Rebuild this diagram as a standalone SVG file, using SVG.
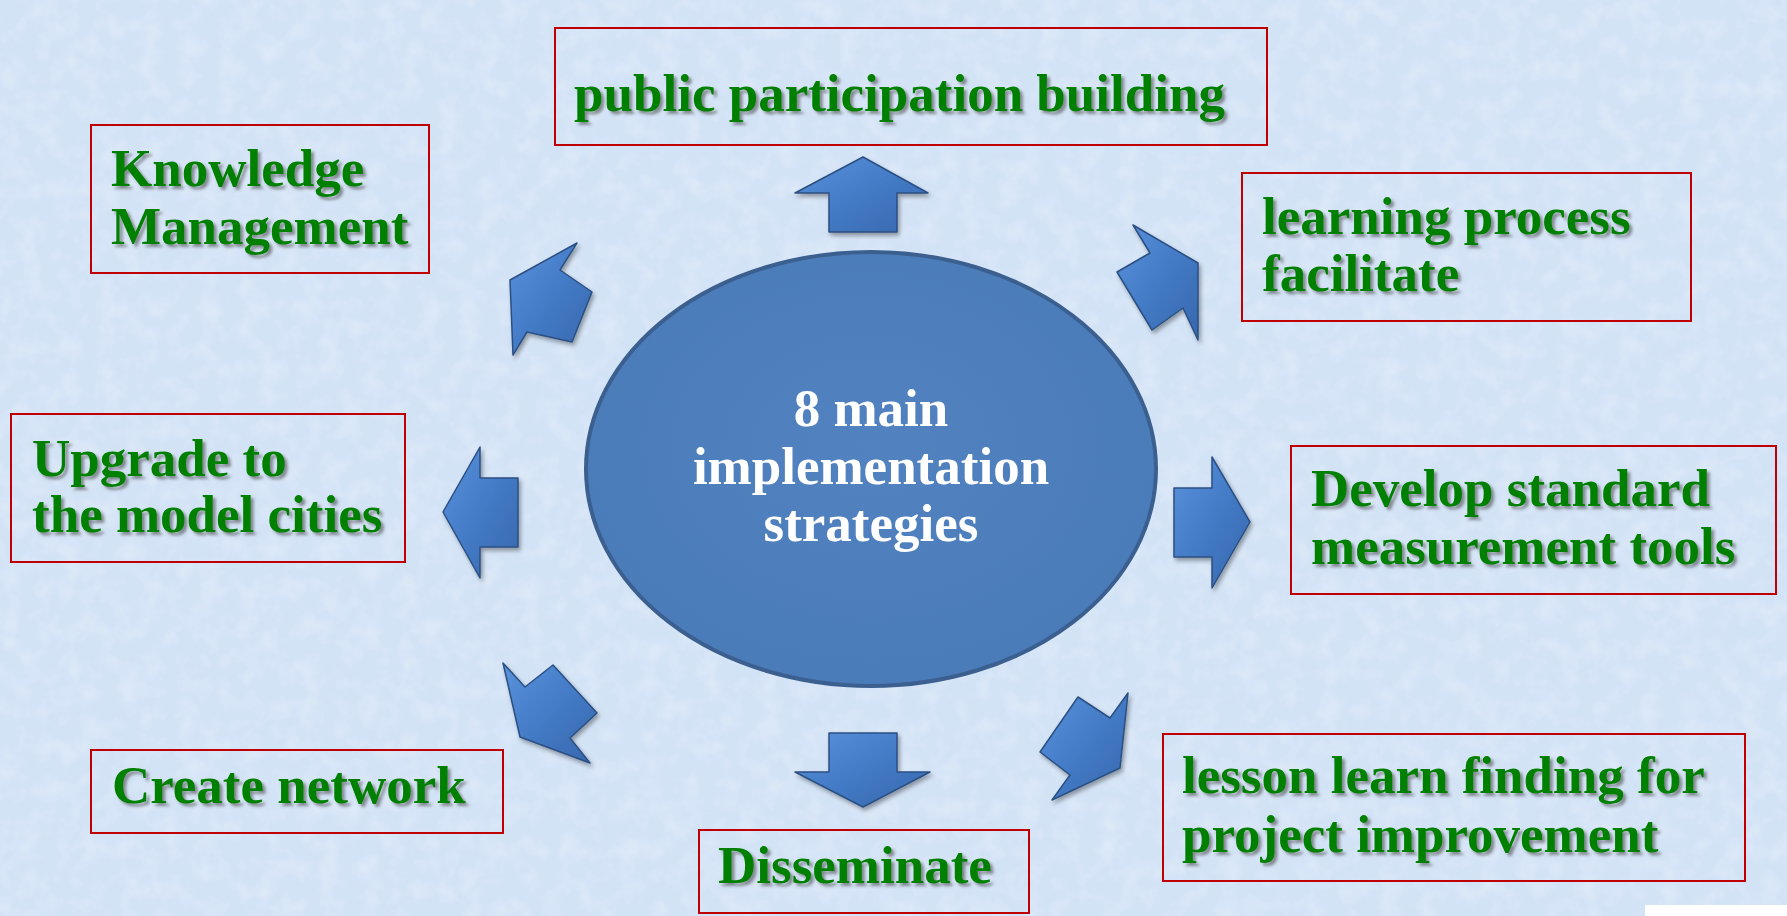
<svg xmlns="http://www.w3.org/2000/svg" width="1787" height="916" viewBox="0 0 1787 916">
  <defs>
    <style>
      .box { fill: none; stroke: #c00000; stroke-width: 2; }
      .lbl { font-family: "Liberation Serif", "Times New Roman", serif; font-weight: bold; font-size: 53px; fill: #008000; filter: url(#tshadow); }
      .ctr { font-family: "Liberation Serif", "Times New Roman", serif; font-weight: bold; font-size: 53px; fill: #ffffff; text-anchor: middle; }
      .arr { fill: url(#arrGrad); stroke: #2b4f82; stroke-width: 1.5; stroke-linejoin: round; filter: url(#ashadow); }
    </style>
    <filter id="tshadow" x="-10%" y="-30%" width="120%" height="160%">
      <feDropShadow dx="3" dy="3" stdDeviation="1.5" flood-color="#404040" flood-opacity="0.55"/>
    </filter>
    <filter id="ashadow" x="-20%" y="-20%" width="140%" height="140%">
      <feDropShadow dx="2" dy="3" stdDeviation="2" flood-color="#000000" flood-opacity="0.35"/>
    </filter>
    <filter id="noise" x="0" y="0" width="100%" height="100%">
      <feTurbulence type="fractalNoise" baseFrequency="0.05" numOctaves="3" seed="4"/>
      <feColorMatrix type="matrix" values="0 0 0 0 1  0 0 0 0 1  0 0 0 0 1  0 0 0 0.5 -0.22"/>
    </filter>
    <linearGradient id="arrGrad" x1="0" y1="0" x2="1" y2="1">
      <stop offset="0" stop-color="#5a92dc"/>
      <stop offset="0.5" stop-color="#447bc6"/>
      <stop offset="1" stop-color="#3667ad"/>
    </linearGradient>
    <radialGradient id="ellGrad" cx="0.5" cy="0.45" r="0.6">
      <stop offset="0" stop-color="#5283c0"/>
      <stop offset="1" stop-color="#4a7bb9"/>
    </radialGradient>
  </defs>

  <!-- background -->
  <rect x="0" y="0" width="1787" height="916" fill="#d3e3f6"/>
  <rect x="0" y="0" width="1787" height="916" filter="url(#noise)"/>

  <!-- connectors (block arrows) -->
  <g id="connectors">
    <polygon class="arr" points="863,157 928,193 897,193 897,232 829,232 829,193 795,193"/>
    <polygon class="arr" points="1198,263 1133,225 1150,253 1117,272 1152,330 1183,308 1198,340"/>
    <polygon class="arr" points="1250,522 1212,457 1212,488 1174,488 1174,557 1212,557 1212,588"/>
    <polygon class="arr" points="1120,768 1128,693 1110,718 1078,697 1040,752 1070,775 1052,800"/>
    <polygon class="arr" points="863,807 930,772 897,772 897,733 829,733 829,772 795,772"/>
    <polygon class="arr" points="520,737 503,663 525,687 553,665 597,713 570,738 590,763"/>
    <polygon class="arr" points="443,512 480,447 480,478 518,478 518,547 480,547 480,578"/>
    <polygon class="arr" points="510,280 577,243 560,270 592,292 572,342 527,332 513,355"/>
  </g>

  <!-- center -->
  <g id="center">
    <ellipse cx="871" cy="469" rx="285" ry="217" fill="url(#ellGrad)" stroke="#3b5f8f" stroke-width="4"/>
    <text class="ctr" x="871" y="426">8 main</text>
    <text class="ctr" x="871" y="484">implementation</text>
    <text class="ctr" x="871" y="541">strategies</text>
  </g>

  <g id="n-public">
    <rect class="box" x="555" y="28" width="712" height="117"/>
    <text class="lbl" x="574" y="111">public participation building</text>
  </g>

  <g id="n-knowledge">
    <rect class="box" x="91" y="125" width="338" height="148"/>
    <text class="lbl" x="111" y="186">Knowledge</text>
    <text class="lbl" x="111" y="244">Management</text>
  </g>

  <g id="n-learning">
    <rect class="box" x="1242" y="173" width="449" height="148"/>
    <text class="lbl" x="1262" y="234">learning process</text>
    <text class="lbl" x="1262" y="291">facilitate</text>
  </g>

  <g id="n-upgrade">
    <rect class="box" x="11" y="414" width="394" height="148"/>
    <text class="lbl" x="32" y="476">Upgrade to</text>
    <text class="lbl" x="32" y="532">the model cities</text>
  </g>

  <g id="n-develop">
    <rect class="box" x="1291" y="446" width="485" height="148"/>
    <text class="lbl" x="1311" y="506">Develop standard</text>
    <text class="lbl" x="1311" y="564">measurement tools</text>
  </g>

  <g id="n-create">
    <rect class="box" x="91" y="750" width="412" height="83"/>
    <text class="lbl" x="112" y="803">Create network</text>
  </g>

  <g id="n-lesson">
    <rect class="box" x="1163" y="734" width="582" height="147"/>
    <text class="lbl" x="1182" y="793">lesson learn finding for</text>
    <text class="lbl" x="1182" y="852">project improvement</text>
  </g>

  <g id="n-disseminate">
    <rect class="box" x="699" y="830" width="330" height="83"/>
    <text class="lbl" x="718" y="883">Disseminate</text>
  </g>

  <!-- corner logo patch -->
  <rect x="1645" y="905" width="142" height="11" fill="#ffffff"/>
</svg>
